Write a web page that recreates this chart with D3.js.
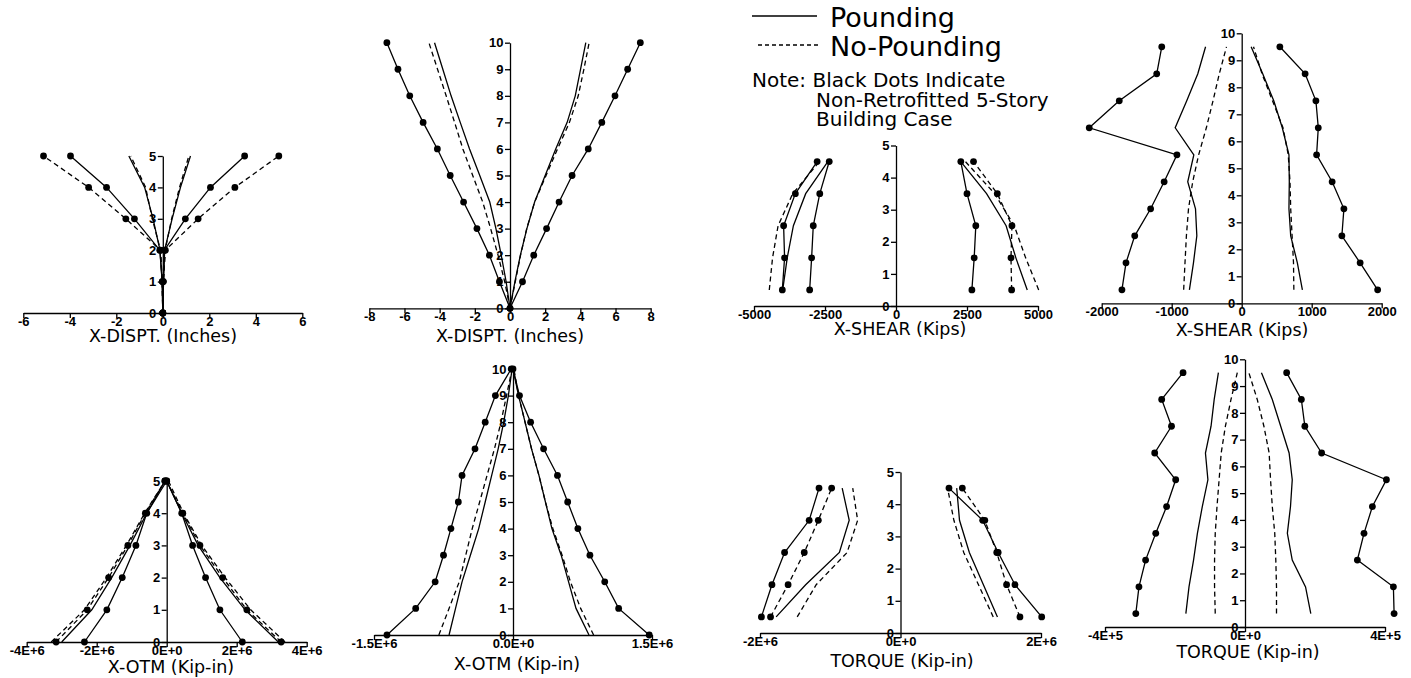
<!DOCTYPE html>
<html><head><meta charset="utf-8">
<script src="https://cdn.jsdelivr.net/npm/d3@7"></script>
<style>
html,body{margin:0;padding:0;background:#fff;}
svg{display:block;}
.tick text{font-family:'Liberation Sans',Arial,sans-serif;font-weight:bold;font-size:13px;fill:#000;}
.axis path,.axis line{stroke:#000;stroke-width:1.3;}
.title{font-family:'DejaVu Sans',sans-serif;font-size:17.5px;fill:#000;}
.leg{font-family:'DejaVu Sans',sans-serif;fill:#000;}
</style></head><body>
<svg id="chart" width="1411" height="678"></svg>
<script>
// ---------- DATA ----------
// Panel 1: 5-story X-DISPT (inches)
const disp5Levels = [0,1,2,3,4,5];
const disp5DotPoundNeg   = [0,-0.02,-0.13,-1.22,-2.42,-3.97];
const disp5DotNoPoundNeg = [0,-0.02,-0.10,-1.59,-3.19,-5.13];
const disp5DotPoundPos   = [0,0.02,0.07,0.97,2.05,3.52];
const disp5DotNoPoundPos = [0,0.02,0.11,1.52,3.10,4.99];
const disp5PoundNeg      = [0,-0.03,-0.12,-0.42,-0.78,-1.46];
const disp5NoPoundNeg    = [0,-0.03,-0.10,-0.45,-0.74,-1.38];
const disp5PoundPos      = [0,0.03,0.08,0.40,0.76,1.19];
const disp5NoPoundPos    = [0,0.03,0.10,0.38,0.72,1.12];
const disp5XTicks = [-6,-4,-2,0,2,4,6];
const disp5XLabels = ["-6","-4","-2","0","2","4","6"];

// Panel 2: 10-story X-DISPT (inches)
const disp10Levels = [0,1,2,3,4,5,6,7,8,9,10];
const disp10DotNeg     = [0,-0.60,-1.17,-1.88,-2.64,-3.40,-4.13,-4.94,-5.70,-6.37,-7.00];
const disp10DotPos     = [0,0.71,1.35,2.08,2.79,3.53,4.45,5.22,5.97,6.69,7.41];
const disp10PoundNeg   = [0,-0.22,-0.50,-0.80,-1.15,-1.72,-2.30,-2.83,-3.35,-3.82,-4.29];
const disp10NoPoundNeg = [0,-0.30,-0.68,-1.10,-1.55,-2.12,-2.68,-3.15,-3.63,-4.12,-4.61];
const disp10PoundPos   = [0,0.28,0.59,0.96,1.40,2.00,2.60,3.25,3.71,4.01,4.31];
const disp10NoPoundPos = [0,0.30,0.60,0.95,1.40,2.05,2.70,3.38,3.88,4.20,4.50];
const disp10XTicks = [-8,-6,-4,-2,0,2,4,6,8];
const disp10XLabels = ["-8","-6","-4","-2","0","2","4","6","8"];

// Panel 3: 5-story X-SHEAR (kips)
const shear5Levels = [0.5,1.5,2.5,3.5,4.5];
const shear5DotPoundNegOuter = [-4003,-3923,-3957,-3544,-2776];
const shear5DotPoundNegInner = [-3040,-2971,-2913,-2684,-2351];
const shear5PoundNeg         = [-3990,-3830,-3613,-3180,-2400];
const shear5NoPoundNeg       = [-4462,-4347,-4152,-3636,-2695];
const shear5DotPoundPos      = [2672,2753,2810,2500,2282];
const shear5DotNoPoundPos    = [4072,4049,4083,3567,2730];
const shear5PoundPos         = [4622,4221,3877,3189,2282];
const shear5NoPoundPos       = [5024,4565,4164,3475,2443];
const shear5XTicks = [-5000,-2500,0,2500,5000];
const shear5XLabels = ["-5000","-2500","0","2500","5000"];

// Panel 4: 10-story X-SHEAR (kips)
const shear10Levels = [0.5,1.5,2.5,3.5,4.5,5.5,6.5,7.5,8.5,9.5];
const shear10DotNeg     = [-1711,-1653,-1528,-1301,-1108,-925,-2178,-1749,-1214,-1142];
const shear10DotPos     = [1942,1692,1431,1460,1292,1070,1094,1060,906,545];
const shear10PoundNeg   = [-747,-689,-641,-660,-771,-684,-950,-785,-627,-516];
const shear10NoPoundNeg = [-829,-810,-790,-760,-700,-615,-505,-410,-320,-217];
const shear10PoundPos   = [867,795,700,675,680,675,580,458,300,135];
const shear10NoPoundPos = [745,740,720,700,690,665,590,440,290,169];
const shear10XTicks = [-2000,-1000,0,1000,2000];
const shear10XLabels = ["-2000","-1000","0","1000","2000"];

// Panel 5: 5-story X-OTM (kip-in)
const otm5Levels = [0,1,2,3,4,5];
const otm5DotPoundNeg   = [-2.35e6,-1.71e6,-1.27e6,-0.88e6,-0.57e6,-0.05e6];
const otm5DotNoPoundNeg = [-3.16e6,-2.27e6,-1.66e6,-1.11e6,-0.61e6,-0.05e6];
const otm5DotPoundPos   = [2.16e6,1.52e6,1.11e6,0.74e6,0.43e6,0];
const otm5DotNoPoundPos = [3.27e6,2.29e6,1.60e6,0.95e6,0.46e6,0];
const otm5PoundNeg      = [-3.00e6,-2.14e6,-1.57e6,-1.05e6,-0.57e6,0];
const otm5NoPoundNeg    = [-3.30e6,-2.35e6,-1.72e6,-1.15e6,-0.63e6,-0.05e6];
const otm5PoundPos      = [3.19e6,2.24e6,1.52e6,0.90e6,0.43e6,0];
const otm5NoPoundPos    = [3.38e6,2.40e6,1.67e6,1.00e6,0.48e6,0.05e6];
const otm5XTicks = [-4e6,-2e6,0,2e6,4e6];
const otm5XLabels = ["-4E+6","-2E+6","0E+0","2E+6","4E+6"];

// Panel 6: 10-story X-OTM (kip-in)
const otm10Levels = [0,1,2,3,4,5,6,7,8,9,10];
const otm10DotNeg     = [-1.36e6,-1.05e6,-0.84e6,-0.75e6,-0.67e6,-0.59e6,-0.55e6,-0.41e6,-0.30e6,-0.19e6,-0.02e6];
const otm10DotPos     = [1.47e6,1.14e6,0.99e6,0.83e6,0.70e6,0.59e6,0.48e6,0.33e6,0.19e6,0.07e6,0];
const otm10PoundNeg   = [-0.69e6,-0.62e6,-0.55e6,-0.46e6,-0.37e6,-0.30e6,-0.23e6,-0.16e6,-0.10e6,-0.05e6,-0.01e6];
const otm10NoPoundNeg = [-0.80e6,-0.69e6,-0.58e6,-0.51e6,-0.44e6,-0.36e6,-0.28e6,-0.20e6,-0.13e6,-0.07e6,-0.01e6];
const otm10PoundPos   = [0.82e6,0.68e6,0.60e6,0.52e6,0.42e6,0.35e6,0.28e6,0.20e6,0.13e6,0.06e6,0];
const otm10NoPoundPos = [0.87e6,0.73e6,0.62e6,0.53e6,0.43e6,0.35e6,0.28e6,0.20e6,0.13e6,0.06e6,0.01e6];
const otm10XTicks = [-1.5e6,0,1.5e6];
const otm10XLabels = ["-1.5E+6","0.0E+0","1.5E+6"];

// Panel 7: 5-story TORQUE (kip-in)
const torq5Levels = [0.5,1.5,2.5,3.5,4.5];
const torq5DotPoundNeg   = [-1.98e6,-1.83e6,-1.65e6,-1.30e6,-1.16e6];
const torq5DotNoPoundNeg = [-1.85e6,-1.60e6,-1.37e6,-1.17e6,-0.98e6];
const torq5PoundNeg      = [-1.77e6,-1.35e6,-0.87e6,-0.73e6,-0.83e6];
const torq5NoPoundNeg    = [-1.47e6,-1.20e6,-0.76e6,-0.61e6,-0.68e6];
const torq5DotPoundPos   = [2.01e6,1.63e6,1.39e6,1.17e6,0.69e6];
const torq5DotNoPoundPos = [1.70e6,1.51e6,1.37e6,1.20e6,0.88e6];
const torq5PoundPos      = [1.38e6,1.18e6,0.98e6,0.84e6,0.80e6];
const torq5NoPoundPos    = [1.32e6,1.11e6,0.90e6,0.76e6,0.67e6];
const torq5XTicks = [-2e6,0,2e6];
const torq5XLabels = ["-2E+6","0E+0","2E+6"];

// Panel 8: 10-story TORQUE (kip-in)
const torq10Levels = [0.5,1.5,2.5,3.5,4.5,5.5,6.5,7.5,8.5,9.5];
const torq10DotNeg     = [-3.12e5,-3.03e5,-2.84e5,-2.55e5,-2.24e5,-1.98e5,-2.58e5,-2.10e5,-2.38e5,-1.77e5];
const torq10DotPos     = [4.26e5,4.24e5,3.21e5,3.40e5,3.64e5,4.04e5,2.19e5,1.71e5,1.61e5,1.19e5];
const torq10PoundNeg   = [-1.69e5,-1.60e5,-1.47e5,-1.36e5,-1.22e5,-1.06e5,-1.13e5,-0.97e5,-0.88e5,-0.76e5];
const torq10NoPoundNeg = [-0.85e5,-0.87e5,-0.87e5,-0.85e5,-0.80e5,-0.74e5,-0.68e5,-0.56e5,-0.40e5,-0.22e5];
const torq10PoundPos   = [1.88e5,1.73e5,1.35e5,1.21e5,1.30e5,1.35e5,1.26e5,1.02e5,0.78e5,0.47e5];
const torq10NoPoundPos = [0.90e5,0.90e5,0.88e5,0.85e5,0.78e5,0.73e5,0.69e5,0.54e5,0.35e5,0.11e5];
const torq10XTicks = [-4e5,0,4e5];
const torq10XLabels = ["-4E+5","0E+0","4E+5"];

const yTicks5 = [0,1,2,3,4,5];
const yTicks10 = [0,1,2,3,4,5,6,7,8,9,10];

const legendLabels = ["Pounding","No-Pounding"];
const noteLines = ["Note: Black Dots Indicate","Non-Retrofitted 5-Story","Building Case"];

// ---------- LAYOUT ----------
const S = (values, dash, dots) => ({values, dash, dots});
const panels = [
  {xDomain:[-6,6], xRange:[23.3,302.3], yDomain:[0,5], yRange:[313,156], xTicks:disp5XTicks, xLabels:disp5XLabels, yTicks:yTicks5,
   levels:disp5Levels, title:"X-DISPT. (Inches)", tx:163, ty:342,
   series:[S(disp5DotPoundNeg,false,true),S(disp5DotNoPoundNeg,true,true),S(disp5DotPoundPos,false,true),S(disp5DotNoPoundPos,true,true),
           S(disp5PoundNeg,false,false),S(disp5NoPoundNeg,true,false),S(disp5PoundPos,false,false),S(disp5NoPoundPos,true,false)]},
  {xDomain:[-8,8], xRange:[369.3,650.7], yDomain:[0,10], yRange:[308.3,42.7], xTicks:disp10XTicks, xLabels:disp10XLabels, yTicks:yTicks10,
   levels:disp10Levels, title:"X-DISPT. (Inches)", tx:510, ty:342,
   series:[S(disp10DotNeg,false,true),S(disp10DotPos,false,true),S(disp10PoundNeg,false,false),S(disp10NoPoundNeg,true,false),
           S(disp10PoundPos,false,false),S(disp10NoPoundPos,true,false)]},
  {xDomain:[-5000,5000], xRange:[754,1038], yDomain:[0,5], yRange:[306,145.5], xTicks:shear5XTicks, xLabels:shear5XLabels, yTicks:yTicks5,
   levels:shear5Levels, title:"X-SHEAR (Kips)", tx:900, ty:335,
   series:[S(shear5DotPoundNegOuter,false,true),S(shear5DotPoundNegInner,false,true),S(shear5PoundNeg,false,false),S(shear5NoPoundNeg,true,false),
           S(shear5DotPoundPos,false,true),S(shear5DotNoPoundPos,true,true),S(shear5PoundPos,false,false),S(shear5NoPoundPos,true,false)]},
  {xDomain:[-2000,2000], xRange:[1101.7,1381.7], yDomain:[0,10], yRange:[303.3,33.3], xTicks:shear10XTicks, xLabels:shear10XLabels, yTicks:yTicks10,
   levels:shear10Levels, title:"X-SHEAR (Kips)", tx:1242, ty:336,
   series:[S(shear10DotNeg,false,true),S(shear10DotPos,false,true),S(shear10PoundNeg,false,false),S(shear10NoPoundNeg,true,false),
           S(shear10PoundPos,false,false),S(shear10NoPoundPos,true,false)]},
  {xDomain:[-4e6,4e6], xRange:[26.7,306.7], yDomain:[0,5], yRange:[642,481], xTicks:otm5XTicks, xLabels:otm5XLabels, yTicks:yTicks5,
   levels:otm5Levels, title:"X-OTM (Kip-in)", tx:171, ty:673,
   series:[S(otm5DotPoundNeg,false,true),S(otm5DotNoPoundNeg,true,true),S(otm5DotPoundPos,false,true),S(otm5DotNoPoundPos,true,true),
           S(otm5PoundNeg,false,false),S(otm5NoPoundNeg,true,false),S(otm5PoundPos,false,false),S(otm5NoPoundPos,true,false)]},
  {xDomain:[-1.5e6,1.5e6], xRange:[374,652], yDomain:[0,10], yRange:[635,369], xTicks:otm10XTicks, xLabels:otm10XLabels, yTicks:yTicks10,
   levels:otm10Levels, title:"X-OTM (Kip-in)", tx:517, ty:670,
   series:[S(otm10DotNeg,false,true),S(otm10DotPos,false,true),S(otm10PoundNeg,false,false),S(otm10NoPoundNeg,true,false),
           S(otm10PoundPos,false,false),S(otm10NoPoundPos,true,false)]},
  {xDomain:[-2e6,2e6], xRange:[760,1041], yDomain:[0,5], yRange:[633,472], xTicks:torq5XTicks, xLabels:torq5XLabels, yTicks:yTicks5,
   levels:torq5Levels, title:"TORQUE (Kip-in)", tx:902, ty:667,
   series:[S(torq5DotPoundNeg,false,true),S(torq5DotNoPoundNeg,true,true),S(torq5PoundNeg,false,false),S(torq5NoPoundNeg,true,false),
           S(torq5DotPoundPos,false,true),S(torq5DotNoPoundPos,true,true),S(torq5PoundPos,false,false),S(torq5NoPoundPos,true,false)]},
  {xDomain:[-4e5,4e5], xRange:[1105,1385], yDomain:[0,10], yRange:[627,359.3], xTicks:torq10XTicks, xLabels:torq10XLabels, yTicks:yTicks10,
   levels:torq10Levels, title:"TORQUE (Kip-in)", tx:1248, ty:658,
   series:[S(torq10DotNeg,false,true),S(torq10DotPos,false,true),S(torq10PoundNeg,false,false),S(torq10NoPoundNeg,true,false),
           S(torq10PoundPos,false,false),S(torq10NoPoundPos,true,false)]}
];

const svg = d3.select('#chart');
svg.append('rect').attr('width',1411).attr('height',678).attr('fill','#fff');
const DASH = '5,3.5';

panels.forEach(cfg => {
  const x = d3.scaleLinear().domain(cfg.xDomain).range(cfg.xRange);
  const y = d3.scaleLinear().domain(cfg.yDomain).range(cfg.yRange);
  const g = svg.append('g');
  g.append('g').attr('class','axis').attr('transform',`translate(0,${y(0)})`)
    .call(d3.axisBottom(x).tickValues(cfg.xTicks).tickFormat((d,i)=>cfg.xLabels[i]).tickSize(5).tickSizeOuter(0).tickPadding(-1.5));
  g.append('g').attr('class','axis').attr('transform',`translate(${x(0)},0)`)
    .call(d3.axisLeft(y).tickValues(cfg.yTicks).tickFormat(d3.format('d')).tickSize(5).tickSizeOuter(0).tickPadding(1.5));
  const line = d3.line().x(d=>x(d[0])).y(d=>y(d[1]));
  cfg.series.forEach(s => {
    const pts = cfg.levels.map((lv,i)=>[s.values[i], lv]);
    g.append('path').datum(pts).attr('d', line).attr('fill','none').attr('stroke','#000')
      .attr('stroke-width',1.3).attr('stroke-dasharray', s.dash ? DASH : null);
    if (s.dots) {
      g.selectAll(null).data(pts).enter().append('circle')
        .attr('cx',d=>x(d[0])).attr('cy',d=>y(d[1])).attr('r',3.4).attr('fill','#000');
    }
  });
  g.append('text').attr('class','title').attr('x',cfg.tx).attr('y',cfg.ty)
    .attr('text-anchor','middle').text(cfg.title);
});

// ---------- LEGEND ----------
const leg = svg.append('g');
const legY = d3.scaleOrdinal().domain(legendLabels).range([16,45]);
legendLabels.forEach((lab,i) => {
  leg.append('line').attr('x1', i ? 758 : 752).attr('x2', i ? 818 : 817)
    .attr('y1', legY(lab)).attr('y2', legY(lab)).attr('stroke','#000').attr('stroke-width',1.3)
    .attr('stroke-dasharray', i ? '4,3' : null);
  leg.append('text').attr('class','leg').attr('x',830).attr('y',legY(lab)+10.5)
    .attr('font-size',27).text(lab);
});
noteLines.forEach((t,i) => {
  leg.append('text').attr('class','leg').attr('x', i ? 816 : 752).attr('y', 87 + i*19.5)
    .attr('font-size',20).attr('xml:space','preserve').text(t);
});
</script>
</body></html>
